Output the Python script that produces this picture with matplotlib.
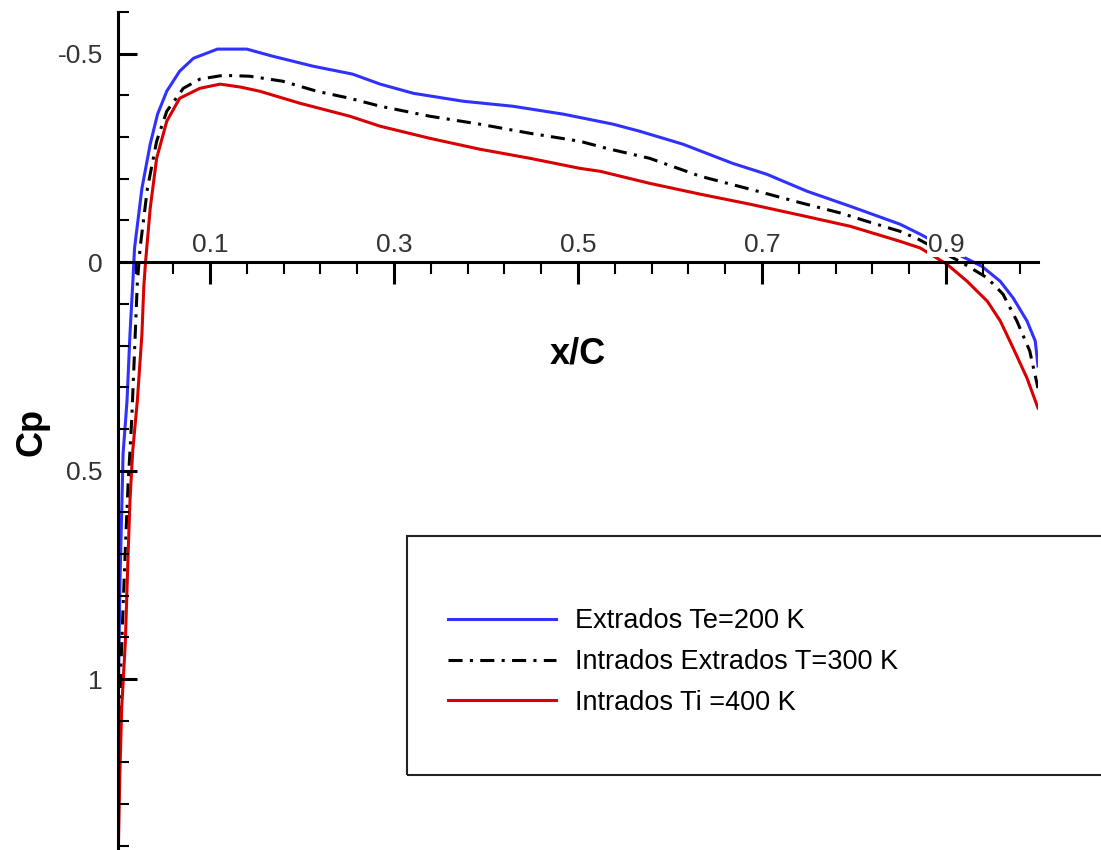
# Cp distribution along the chord, three wall temperatures
import matplotlib
matplotlib.use('Agg')
import matplotlib.pyplot as plt
from matplotlib.ticker import MultipleLocator, FuncFormatter
from matplotlib.patches import Rectangle

# data (x/C, Cp)
x_te200 = [0.0, 0.002, 0.004, 0.0055, 0.0098, 0.013, 0.016, 0.018, 0.026, 0.035,
           0.043, 0.053, 0.067, 0.082, 0.108, 0.140, 0.168, 0.212, 0.255, 0.285,
           0.321, 0.375, 0.429, 0.484, 0.538, 0.567, 0.614, 0.668, 0.705, 0.749,
           0.796, 0.850, 0.872, 0.910, 0.939, 0.959, 0.973, 0.988, 0.997, 1.0]
cp_te200 = [1.10, 0.78, 0.60, 0.46, 0.333, 0.173, 0.053, -0.034, -0.177, -0.283,
            -0.355, -0.410, -0.458, -0.489, -0.511, -0.511, -0.494, -0.470, -0.451, -0.427,
            -0.405, -0.386, -0.374, -0.355, -0.331, -0.314, -0.283, -0.237, -0.211, -0.170,
            -0.134, -0.091, -0.067, -0.022, 0.010, 0.046, 0.086, 0.141, 0.189, 0.249]

x_t300 = [0.0, 0.003, 0.006, 0.008, 0.011, 0.015, 0.018, 0.021, 0.024, 0.032,
          0.042, 0.053, 0.071, 0.089, 0.114, 0.143, 0.179, 0.216, 0.252, 0.285,
          0.339, 0.393, 0.448, 0.502, 0.531, 0.578, 0.633, 0.687, 0.741, 0.785,
          0.814, 0.850, 0.870, 0.918, 0.945, 0.962, 0.977, 0.991, 1.0]
cp_t300 = [1.25, 0.98, 0.80, 0.686, 0.532, 0.374, 0.213, 0.05, -0.034, -0.177,
           -0.290, -0.362, -0.417, -0.439, -0.448, -0.446, -0.434, -0.410, -0.393, -0.374,
           -0.350, -0.331, -0.309, -0.290, -0.273, -0.249, -0.206, -0.175, -0.143, -0.118,
           -0.098, -0.074, -0.055, 0.002, 0.038, 0.077, 0.141, 0.213, 0.302]

x_ti400 = [0.0, 0.002, 0.004, 0.008, 0.011, 0.013, 0.016, 0.021, 0.026, 0.028,
           0.030, 0.035, 0.042, 0.053, 0.067, 0.089, 0.111, 0.133, 0.154, 0.198,
           0.252, 0.285, 0.339, 0.393, 0.448, 0.502, 0.524, 0.578, 0.633, 0.687,
           0.741, 0.796, 0.850, 0.872, 0.901, 0.923, 0.945, 0.959, 0.973, 0.988, 1.0]
cp_ti400 = [1.45, 1.23, 1.07, 0.91, 0.70, 0.573, 0.453, 0.333, 0.173, 0.06,
            -0.002, -0.129, -0.249, -0.338, -0.393, -0.417, -0.427, -0.420, -0.410, -0.381,
            -0.350, -0.326, -0.297, -0.271, -0.249, -0.225, -0.218, -0.189, -0.163, -0.139,
            -0.113, -0.086, -0.050, -0.034, 0.005, 0.046, 0.094, 0.141, 0.206, 0.278, 0.350]

labels = ['Extrados Te=200 K', 'Intrados Extrados T=300 K', 'Intrados Ti =400 K']

W, H = 1101, 850
fig = plt.figure(figsize=(W / 100, H / 100), dpi=100)
ax = fig.add_axes([118 / W, 0.0, (1038 - 118) / W, 1 - 12 / H])

blue = '#3030ff'
red = '#d80000'
ax.plot(x_te200, cp_te200, color=blue, lw=2.2, label=labels[0])
ax.plot(x_t300, cp_t300, color='black', lw=2.2, dashes=[4.6, 2.4, 1.0, 2.4], label=labels[1])
ax.plot(x_ti400, cp_ti400, color=red, lw=2.2, label=labels[2])

ax.set_xlim(0, 1.0)
ax.set_ylim(1.41, -0.6)
ax.set_axisbelow(False)

# axes cross at the origin
ax.spines['right'].set_visible(False)
ax.spines['bottom'].set_position(('data', 0))
ax.spines['top'].set_position(('data', 0))
ax.spines['top'].set_visible(False)
ax.spines['left'].set_linewidth(2.2)
ax.spines['bottom'].set_linewidth(2.2)

# x axis: ticks downwards, labels above the axis
ax.xaxis.set_major_locator(MultipleLocator(0.2, offset=0.1))
ax.xaxis.set_minor_locator(MultipleLocator(0.04, offset=0.02))
ax.xaxis.set_major_formatter(FuncFormatter(lambda v, p: '%g' % round(v, 2)))
ax.tick_params(axis='x', which='both', direction='out', bottom=True, top=False,
               labelbottom=False, labeltop=True)
ax.tick_params(axis='x', which='major', length=16, width=2.2, pad=-12,
               labelsize=19, labelcolor='#333333')
ax.tick_params(axis='x', which='minor', length=8.5, width=1.5)

# y axis: ticks pointing into the plot
ax.yaxis.set_major_locator(MultipleLocator(0.5))
ax.yaxis.set_minor_locator(MultipleLocator(0.1))
ax.yaxis.set_major_formatter(FuncFormatter(lambda v, p: '%g' % round(v, 2)))
ax.tick_params(axis='y', which='both', direction='in', left=True, right=False)
ax.tick_params(axis='y', which='major', length=13.5, width=2.2, pad=11,
               labelsize=19, labelcolor='#333333')
ax.tick_params(axis='y', which='minor', length=8, width=1.5)

for lbl in ax.get_yticklabels():
    lbl.set_family('Liberation Sans')
for t in ax.xaxis.get_major_ticks():
    t.label2.set_family('Liberation Sans')
    t.label2.set_bbox(dict(facecolor='white', edgecolor='none', pad=0.5))

ax.set_xlabel('x/C', fontsize=26, fontweight='bold', family='Liberation Sans', va='center')
ax.xaxis.set_label_coords(0.5, (H - 354) / (H - 12))
ax.set_ylabel('Cp', fontsize=26, fontweight='bold', family='Liberation Sans', va='center')
ax.yaxis.set_label_coords((32 - 118) / (1038 - 118), (H - 432) / (H - 12))

# legend box (runs off the right edge)
fig.patches.append(Rectangle((407 / W, 1 - 775 / H), 1.0, (775 - 536) / H,
                             transform=fig.transFigure, fill=False,
                             edgecolor='#222222', lw=1.5))
ax.legend(loc='center left', bbox_to_anchor=(448 / W, 1 - 662 / H),
          bbox_transform=fig.transFigure, frameon=False, borderpad=0,
          borderaxespad=0, handlelength=4.0, handletextpad=0.7, labelspacing=0.55,
          prop={'family': 'Liberation Sans', 'size': 19.5})

fig.savefig('out.png', dpi=100)
